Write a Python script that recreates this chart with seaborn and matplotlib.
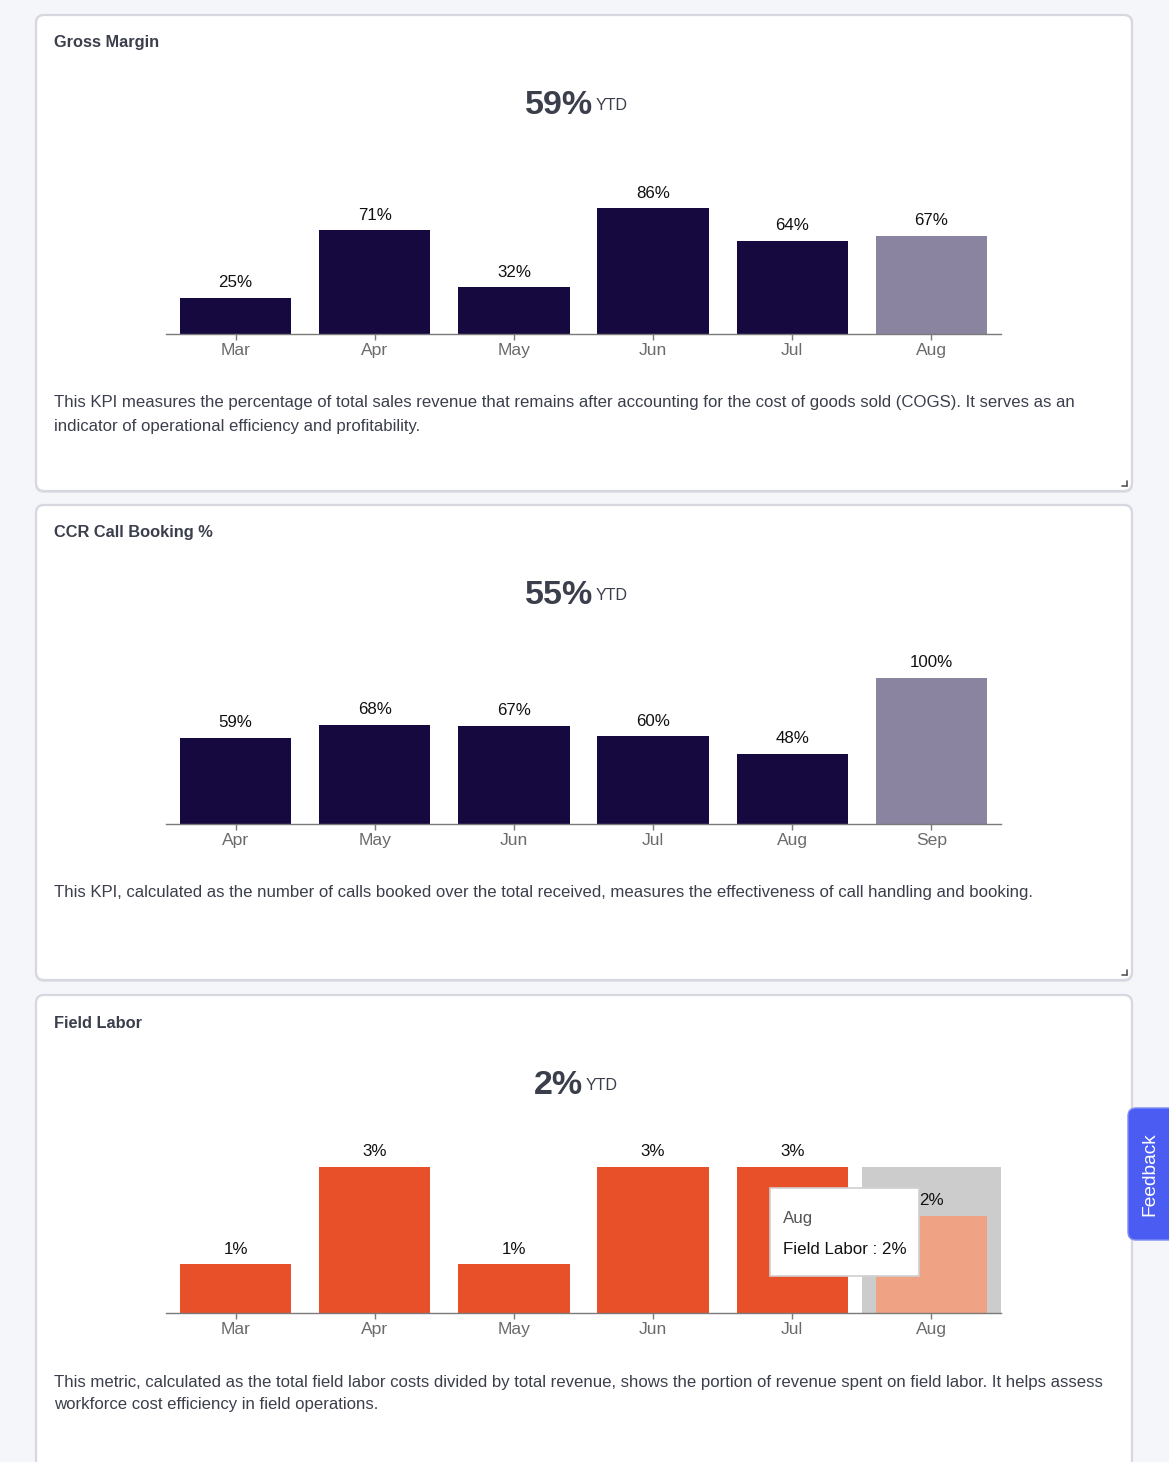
import matplotlib
matplotlib.use('Agg')
import matplotlib.pyplot as plt
from matplotlib.patches import FancyBboxPatch, Rectangle
import seaborn as sns
import pandas as pd

# data
gm_months = ['Mar', 'Apr', 'May', 'Jun', 'Jul', 'Aug']
gm_values = [25, 71, 32, 86, 64, 67]
gm_ytd = '59%'

ccr_months = ['Apr', 'May', 'Jun', 'Jul', 'Aug', 'Sep']
ccr_values = [59, 68, 67, 60, 48, 100]
ccr_ytd = '55%'

fl_months = ['Mar', 'Apr', 'May', 'Jun', 'Jul', 'Aug']
fl_values = [1, 3, 1, 3, 3, 2]
fl_ytd = '2%'

titles = ['Gross Margin', 'CCR Call Booking %', 'Field Labor']
descriptions = [
    ['This KPI measures the percentage of total sales revenue that remains after accounting for the cost of goods sold (COGS). It serves as an',
     'indicator of operational efficiency and profitability.'],
    ['This KPI, calculated as the number of calls booked over the total received, measures the effectiveness of call handling and booking.'],
    ['This metric, calculated as the total field labor costs divided by total revenue, shows the portion of revenue spent on field labor. It helps assess',
     'workforce cost efficiency in field operations.'],
]

W, H = 1169, 1462
DARK = '#16093f'
DARK_LT = '#8a84a0'
ORANGE = '#e8502a'
ORANGE_LT = '#f0a285'
TEXT = '#3b3f4c'

sns.set_theme(style='white')
plt.rcParams['font.family'] = ['Liberation Sans', 'DejaVu Sans']


def box(l, t, r, b):
    return [l / W, 1 - b / H, (r - l) / W, (b - t) / H]


fig = plt.figure(figsize=(W / 100, H / 100), dpi=100, facecolor='#f5f6fa')

# background layer with the cards
bg = fig.add_axes([0, 0, 1, 1], zorder=-10)
bg.set_xlim(0, W)
bg.set_ylim(H, 0)
bg.axis('off')
bg.patch.set_alpha(0)

cards = [(36, 15, 1132, 491), (36, 505, 1132, 980), (36, 995, 1132, 1480)]
for (l, t, r, b) in cards:
    bg.add_patch(FancyBboxPatch((l - 1, t - 1), r - l + 2, b - t + 3,
                                boxstyle='round,pad=0,rounding_size=9',
                                fc='#e4e5ec', ec='none'))
    bg.add_patch(FancyBboxPatch((l, t), r - l, b - t,
                                boxstyle='round,pad=0,rounding_size=8',
                                fc='white', ec='#d6d7df', lw=1.6))
for (l, t, r, b) in cards[:2]:
    # little resize handle
    bg.plot([r - 10, r - 5], [b - 5, b - 5], color='#555555', lw=1.2)
    bg.plot([r - 5, r - 5], [b - 10, b - 5], color='#555555', lw=1.2)

charts = [
    (gm_months, gm_values, gm_ytd, [DARK] * 5 + [DARK_LT], 100, 334, 593),
    (ccr_months, ccr_values, ccr_ytd, [DARK] * 5 + [DARK_LT], 100, 824, 593),
    (fl_months, fl_values, fl_ytd, [ORANGE] * 5 + [ORANGE_LT], 3, 1313, 583),
]

for i, (months, values, ytd, colors, ymax, base, ytd_x) in enumerate(charts):
    top = cards[i][1]
    bg.text(54, top + 28, titles[i], fontsize=11.8, fontweight='bold',
            color=TEXT, va='center', ha='left')
    bg.text(ytd_x, top + 91, ytd, fontsize=24.5, fontweight='bold',
            color=TEXT, va='center', ha='right')
    bg.text(ytd_x + 3, top + 90, 'YTD', fontsize=11.5, color=TEXT,
            va='center', ha='left')
    for j, line in enumerate(descriptions[i]):
        bg.text(54, base + 69 + 23 * j, line, fontsize=12.05, color=TEXT,
                va='center', ha='left')

    ax = fig.add_axes(box(166, base - 146, 1001, base))
    ax.patch.set_alpha(0)
    df = pd.DataFrame({'month': months, 'value': values})
    if i == 2:
        ax.axvspan(4.5, 5.5, color='#cccccc', lw=0, zorder=0.5)
    sns.barplot(data=df, x='month', y='value', hue='month',
                palette=dict(zip(months, colors)), legend=False,
                width=0.8, saturation=1, linewidth=0, ax=ax, zorder=2)
    for k, v in enumerate(values):
        ax.annotate(f'{v}%', (k, v), xytext=(0, 11), textcoords='offset points',
                    ha='center', va='center', fontsize=12.2, color='#111111')
    ax.set_xlim(-0.5, 5.5)
    ax.set_ylim(0, ymax)
    ax.set_xlabel('')
    ax.set_ylabel('')
    ax.set_yticks([])
    for s in ['top', 'left', 'right']:
        ax.spines[s].set_visible(False)
    ax.spines['bottom'].set_color('#7a7a7a')
    ax.spines['bottom'].set_linewidth(1)
    ax.tick_params(axis='x', length=4.5, width=1, color='#7a7a7a',
                   labelcolor='#6b6b6b', labelsize=12.6, pad=2, bottom=True)

# overlay: tooltip and feedback tab
ov = fig.add_axes([0, 0, 1, 1], zorder=10)
ov.set_xlim(0, W)
ov.set_ylim(H, 0)
ov.axis('off')
ov.patch.set_alpha(0)
ov.add_patch(Rectangle((770, 1188), 149, 88, fc='white', ec='#cfcfcf', lw=1.2))
ov.text(783, 1218, 'Aug', fontsize=12.2, color='#555555', va='center', ha='left')
ov.text(783, 1249, 'Field Labor : 2%', fontsize=12.2, color='#111111',
        va='center', ha='left')

ov.add_patch(FancyBboxPatch((1128, 1108), 60, 132,
                            boxstyle='round,pad=0,rounding_size=8',
                            fc='#4b5cf2', ec='#7f8cf5', lw=1))
ov.text(1150, 1174, 'Feedback', fontsize=13.8, color='white', rotation=90,
        va='center', ha='center')

fig.savefig('out.png', dpi=100, facecolor=fig.get_facecolor())
